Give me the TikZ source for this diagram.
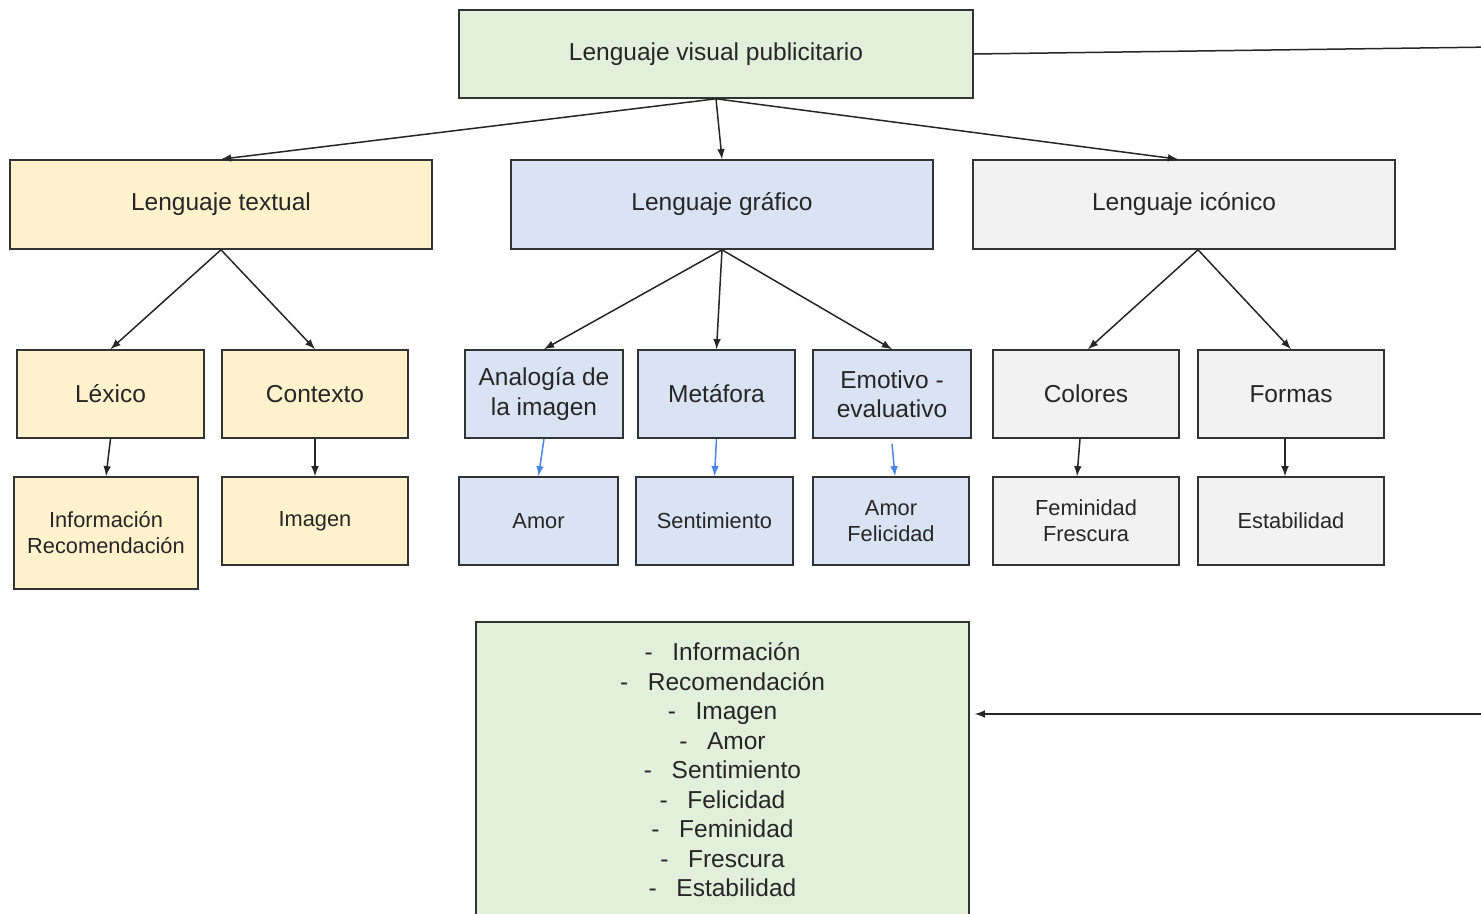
\documentclass[tikz,border=0pt]{standalone}
\usepackage{fontspec}
\setmainfont{Liberation Sans}
\definecolor{verdeclaro}{HTML}{E2EFDA}
\definecolor{amarilloclaro}{HTML}{FFF2CC}
\definecolor{azulclaro}{HTML}{DAE3F3}
\definecolor{grisclaro}{HTML}{F2F2F2}
\definecolor{azulflecha}{HTML}{4A86E8}
\newcommand{\guion}[1]{-\hspace{0.8em}#1}
\begin{document}
\begin{tikzpicture}[
    x=0.5pt, y=-0.5pt,
    caja/.style={rectangle, draw=black!80, line width=0.8pt, align=center, inner sep=2pt, text=black!85, font=\fontsize{12.25}{14.75}\selectfont},
    cajachica/.style={caja, font=\fontsize{10.9}{13}\selectfont},
    general/.style={caja, fill=verdeclaro, minimum width=257pt, minimum height=44pt},
    rama/.style={caja, minimum width=211pt, minimum height=44.5pt},
    flecha/.style={-latex, line width=0.75pt, black!85},
    flecha azul/.style={-latex, line width=0.75pt, azulflecha}
]
\clip (0,0) rectangle (1481,914);

% Root node
\node[general] (raiz) at (716,54) {Lenguaje visual publicitario};

% Level 1 nodes
\node[rama, fill=amarilloclaro] (textual) at (221,204.5) {Lenguaje textual};
\node[rama, fill=azulclaro] (grafico) at (722,204.5) {Lenguaje gráfico};
\node[rama, fill=grisclaro] (iconico) at (1184,204.5) {Lenguaje icónico};

% Level 2 nodes
\node[caja, fill=amarilloclaro, minimum width=93.5pt, minimum height=44pt] (lexico) at (110.5,394) {Léxico};
\node[caja, fill=amarilloclaro, minimum width=93pt, minimum height=44pt] (contexto) at (315,394) {Contexto};
\node[caja, fill=azulclaro, minimum width=79pt, minimum height=44pt] (analogia) at (544,394) {Analogía de\\la imagen};
\node[caja, fill=azulclaro, minimum width=78.5pt, minimum height=44pt] (metafora) at (716.5,394) {Metáfora};
\node[caja, fill=azulclaro, minimum width=79pt, minimum height=44pt] (emotivo) at (892,394) {Emotivo -\\evaluativo};
\node[caja, fill=grisclaro, minimum width=93pt, minimum height=44pt] (colores) at (1086,394) {Colores};
\node[caja, fill=grisclaro, minimum width=93pt, minimum height=44pt] (formas) at (1291,394) {Formas};

% Level 3 nodes
\node[cajachica, fill=amarilloclaro, minimum width=92pt, minimum height=56pt] (inforec) at (106,533) {Información\\Recomendación};
\node[cajachica, fill=amarilloclaro, minimum width=93pt, minimum height=44pt] (imagen) at (315,521) {Imagen};
\node[cajachica, fill=azulclaro, minimum width=79.5pt, minimum height=44pt] (amor) at (538.5,521) {Amor};
\node[cajachica, fill=azulclaro, minimum width=78.5pt, minimum height=44pt] (sentimiento) at (714.5,521) {Sentimiento};
\node[cajachica, fill=azulclaro, minimum width=78pt, minimum height=44pt] (amorfel) at (891,521) {Amor\\Felicidad};
\node[cajachica, fill=grisclaro, minimum width=93pt, minimum height=44pt] (femfres) at (1086,521) {Feminidad\\Frescura};
\node[cajachica, fill=grisclaro, minimum width=93pt, minimum height=44pt] (estab) at (1291,521) {Estabilidad};

% Summary box
\node[caja, fill=verdeclaro, anchor=north, minimum width=246.5pt, minimum height=148pt] (resumen) at (722.5,621) {%
\guion{Información}\\ \guion{Recomendación}\\ \guion{Imagen}\\ \guion{Amor}\\ \guion{Sentimiento}\\
\guion{Felicidad}\\ \guion{Feminidad}\\ \guion{Frescura}\\ \guion{Estabilidad}};

% Free ends on the right edge
\coordinate (salida) at (1495,47);
\coordinate (entrada) at (1495,714);

% Connections from root to level 1
\draw[flecha] (raiz.south) -- (textual.north);
\draw[flecha] (raiz.south) -- (grafico.north);
\draw[flecha] (raiz.south) -- ([xshift=-3pt]iconico.north);

% Connections from level 1 to level 2
\draw[flecha] (textual.south) -- (lexico.north);
\draw[flecha] (textual.south) -- (contexto.north);
\draw[flecha] (grafico.south) -- (analogia.north);
\draw[flecha] (grafico.south) -- (metafora.north);
\draw[flecha] (grafico.south) -- (emotivo.north);
\draw[flecha] ([xshift=7pt]iconico.south) -- ([xshift=1pt]colores.north);
\draw[flecha] ([xshift=7pt]iconico.south) -- (formas.north);

% Connections from level 2 to level 3
\draw[flecha] (lexico.south) -- (inforec.north);
\draw[flecha] (contexto.south) -- (imagen.north);
\draw[flecha azul] (analogia.south) -- (amor.north);
\draw[flecha azul] (metafora.south) -- (sentimiento.north);
\draw[flecha azul] ([yshift=-2.5pt]emotivo.south) -- ([xshift=2pt]amorfel.north);
\draw[flecha] ([xshift=-3pt]colores.south) -- ([xshift=-4.5pt]femfres.north);
\draw[flecha] ([xshift=-3pt]formas.south) -- ([xshift=-3pt]estab.north);

% Side connections
\draw[line width=0.75pt, black!85] (raiz.east) -- (salida);
\draw[flecha] (entrada) -- ([xshift=2.5pt]resumen.east |- entrada);
\end{tikzpicture}
\end{document}
